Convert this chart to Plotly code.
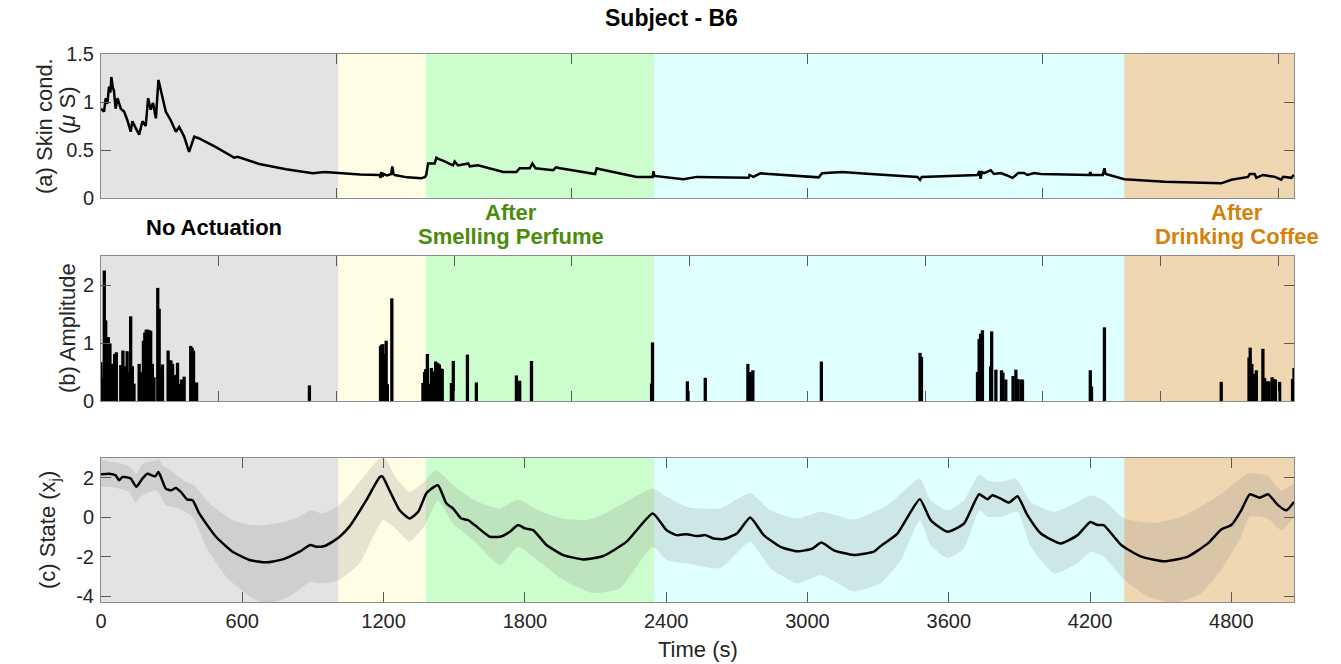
import plotly.graph_objects as go

# ---------------- data ----------------
# experiment phases (s)
PHASE_EDGES = [0, 1008, 1379, 2349, 4345, 5066]
PHASE_COLORS = ["#e3e3e3", "#fffde4", "#ccfdcc", "#e0ffff", "#efd7b2"]

# (a) skin conductance (uS)
SC_T = [0, 13, 20, 27, 34, 40, 44, 50, 55, 62, 70, 84, 98, 112, 126, 133, 147, 162, 176, 190,
        200, 211, 221, 233, 244, 254, 275, 296, 318, 332, 353, 374, 396, 417, 488, 559, 565, 580,
        672, 786, 899, 949, 1013, 1100, 1183, 1187, 1190, 1195, 1200, 1215, 1232, 1237, 1242,
        1247, 1300, 1360, 1376, 1381, 1389, 1417, 1424, 1430, 1452, 1495, 1502, 1516, 1559, 1566,
        1601, 1708, 1764, 1778, 1821, 1832, 1845, 1920, 1932, 1950, 2098, 2105, 2120, 2275, 2343,
        2346, 2350, 2473, 2530, 2750, 2754, 2770, 2800, 3048, 3062, 3147, 3268, 3467, 3478, 3485,
        3722, 3730, 3735, 3740, 3750, 3778, 3792, 3821, 3842, 3871, 3895, 3920, 3934, 3963, 3991,
        4197, 4201, 4205, 4254, 4261, 4266, 4346, 4516, 4757, 4800, 4871, 4878, 4899, 4906, 4934,
        4960, 4985, 5012, 5020, 5055, 5066]
SC_V = [0.93, 0.90, 1.04, 0.98, 1.16, 1.10, 1.26, 1.15, 1.12, 0.93, 1.04, 0.93, 0.90, 0.81, 0.69,
        0.80, 0.73, 0.66, 0.80, 0.75, 1.04, 0.92, 0.99, 0.83, 1.23, 1.12, 0.90, 0.81, 0.69, 0.74,
        0.64, 0.48, 0.64, 0.62, 0.53, 0.43, 0.42, 0.43, 0.354, 0.30, 0.257, 0.27, 0.257, 0.245,
        0.24, 0.21, 0.27, 0.22, 0.25, 0.235, 0.25, 0.33, 0.25, 0.24, 0.215, 0.205, 0.22, 0.24,
        0.36, 0.36, 0.42, 0.41, 0.39, 0.34, 0.38, 0.34, 0.36, 0.33, 0.34, 0.27, 0.27, 0.31, 0.31,
        0.36, 0.31, 0.29, 0.32, 0.31, 0.25, 0.31, 0.30, 0.22, 0.22, 0.28, 0.23, 0.195, 0.22, 0.21,
        0.24, 0.22, 0.257, 0.215, 0.257, 0.27, 0.25, 0.22, 0.19, 0.22, 0.24, 0.28, 0.20, 0.27,
        0.26, 0.29, 0.25, 0.26, 0.24, 0.21, 0.26, 0.26, 0.24, 0.26, 0.25, 0.24, 0.27, 0.24, 0.24,
        0.31, 0.25, 0.195, 0.17, 0.153, 0.19, 0.22, 0.25, 0.25, 0.21, 0.24, 0.23, 0.22, 0.19,
        0.22, 0.21, 0.24]

# (b) pulse amplitudes
AMP_T = [0, 7, 14, 20, 26, 31, 38, 45, 52, 58, 65, 84, 93, 100, 111, 118, 126, 133, 140, 162,
         168, 174, 180, 186, 192, 199, 205, 211, 218, 225, 241, 247, 254, 261, 285, 291, 297, 304,
         310, 316, 325, 332, 342, 353, 381, 387, 393, 406, 885,
         1187, 1192, 1197, 1204, 1211, 1216, 1235,
         1367, 1374, 1379, 1386, 1393, 1403, 1410, 1421, 1426, 1431, 1437, 1444, 1449, 1488, 1496,
         1556, 1594, 1764, 1778, 1828, 2338, 2342,
         2490, 2566, 2747, 2757, 2768, 3059, 3478, 3484, 3722, 3729, 3735, 3743, 3778, 3782, 3800,
         3824, 3830, 3842, 3873, 3885, 3892, 3906, 3913, 4201, 4206, 4261,
         4757, 4875, 4880, 4887, 4899, 4906, 4934, 4941, 4953, 4960, 4973, 4980, 4987, 5005, 5060,
         5066]
AMP_V = [0.67, 0.39, 2.25, 1.39, 1.10, 1.10, 0.99, 0.64, 0.64, 0.81, 0.84, 0.62, 0.87, 0.60, 0.86,
         0.50, 1.46, 0.60, 0.30, 0.64, 0.50, 0.50, 1.04, 1.18, 1.23, 1.23, 1.22, 1.21, 0.64, 0.41,
         1.95, 1.59, 0.56, 0.63, 0.87, 0.70, 0.70, 0.64, 0.45, 0.45, 0.66, 0.30, 0.37, 0.42, 0.95,
         0.92, 0.87, 0.32, 0.27,
         0.95, 0.97, 0.98, 0.81, 1.04, 0.29, 1.77,
         0.31, 0.50, 0.55, 0.81, 0.30, 0.57, 0.51, 0.68, 0.66, 0.65, 0.63, 0.56, 0.55, 0.31, 0.69,
         0.80, 0.32, 0.44, 0.35, 0.69, 0.30, 1.01,
         0.34, 0.40, 0.64, 0.50, 0.53, 0.68, 0.83, 0.76, 0.50, 1.07, 1.16, 1.22, 0.60, 1.20, 0.54,
         0.53, 0.49, 0.37, 0.43, 0.54, 0.38, 0.37, 0.37, 0.53, 0.25, 1.27,
         0.33, 0.75, 0.92, 0.64, 0.47, 0.53, 0.90, 0.40, 0.34, 0.34, 0.41, 0.38, 0.37, 0.33, 0.38,
         0.57]

# (c) estimated state and its confidence limits
ST_T = [0, 34, 62, 77, 91, 126, 150, 176, 197, 230, 244, 254, 275, 297, 318, 339, 367, 389, 417,
        488, 559, 630, 701, 772, 843, 889, 914, 949, 984, 1013, 1055, 1126, 1183, 1195, 1225,
        1268, 1311, 1347, 1381, 1400, 1431, 1467, 1495, 1530, 1559, 1587, 1651, 1694, 1736, 1771,
        1800, 1835, 1892, 1963, 2048, 2133, 2232, 2343, 2402, 2445, 2487, 2530, 2566, 2601, 2644,
        2700, 2757, 2814, 2885, 2956, 3020, 3059, 3112, 3197, 3282, 3310, 3382, 3477, 3523, 3594,
        3665, 3729, 3764, 3785, 3821, 3856, 3892, 3934, 3991, 4076, 4147, 4201, 4232, 4258, 4332,
        4417, 4516, 4615, 4700, 4757, 4800, 4842, 4878, 4920, 4956, 4998, 5034, 5066]
ST_V = [2.17, 2.20, 2.12, 1.87, 2.04, 1.96, 1.54, 1.96, 2.20, 2.07, 2.29, 2.05, 1.45, 1.36, 1.48,
        1.28, 0.89, 0.86, 0.19, -0.99, -1.75, -2.17, -2.29, -2.14, -1.75, -1.41, -1.50, -1.46,
        -1.24, -0.99, -0.48, 0.85, 2.02, 2.07, 1.36, 0.35, -0.07, 0.27, 1.20, 1.42, 1.62, 0.69,
        0.44, -0.07, -0.15, -0.40, -0.99, -0.99, -0.74, -0.40, -0.57, -0.66, -1.41, -1.92, -2.14,
        -1.97, -1.24, 0.19, -0.66, -0.91, -0.86, -0.96, -0.91, -1.08, -1.11, -0.83, -0.02, -0.91,
        -1.50, -1.73, -1.60, -1.29, -1.68, -1.92, -1.75, -1.47, -0.83, 0.91, -0.15, -0.74, -0.32,
        1.16, 0.91, 1.11, 0.94, 0.74, 1.06, 0.10, -0.83, -1.33, -0.91, -0.24, -0.40, -0.40, -1.41,
        -2.00, -2.24, -2.00, -1.33, -0.62, -0.40, 0.35, 1.16, 0.99, 1.16, 0.61, 0.35, 0.77]

UP_T = [0, 45, 91, 126, 150, 176, 233, 244, 261, 304, 360, 396, 460, 559, 630, 701, 772, 843, 889,
        942, 1013, 1098, 1197, 1250, 1311, 1371, 1424, 1495, 1580, 1637, 1694, 1771, 1835, 1900,
        1963, 2062, 2133, 2204, 2343, 2402, 2487, 2629, 2757, 2842, 2956, 3059, 3197, 3339, 3477,
        3523, 3594, 3665, 3729, 3764, 3821, 3885, 3949, 4048, 4147, 4201, 4258, 4346, 4474, 4587,
        4757, 4871, 4956, 5012, 5066]
UP_V = [2.91, 2.80, 2.71, 2.55, 2.20, 2.71, 2.88, 2.97, 2.63, 2.29, 1.78, 1.62, 0.70, -0.15, -0.38,
        -0.40, -0.25, 0.02, 0.35, 0.19, 0.60, 1.78, 3.10, 2.04, 1.28, 1.78, 2.38, 1.62, 0.90, 0.60,
        0.44, 0.89, 0.49, 0.15, -0.07, -0.15, 0.15, 0.60, 1.45, 1.03, 0.52, 0.44, 1.23, 0.35,
        -0.07, 0.27, -0.12, 0.60, 1.95, 0.85, 0.35, 0.85, 2.17, 1.87, 1.78, 1.95, 0.77, 0.27, 0.77,
        1.11, 0.85, -0.07, -0.29, 0.02, 1.18, 2.22, 2.10, 1.34, 1.68]

LO_T = [0, 45, 119, 147, 176, 233, 247, 275, 332, 389, 446, 531, 630, 701, 800, 889, 928, 1013,
        1098, 1197, 1250, 1311, 1371, 1431, 1495, 1580, 1694, 1771, 1835, 1963, 2090, 2204, 2343,
        2402, 2487, 2629, 2757, 2842, 2956, 3059, 3197, 3310, 3396, 3477, 3523, 3594, 3665, 3729,
        3764, 3821, 3892, 3949, 4048, 4147, 4201, 4258, 4346, 4445, 4559, 4672, 4757, 4842, 4878,
        4956, 5012, 5066]
LO_V = [1.53, 1.53, 1.28, 0.77, 1.11, 1.36, 1.20, 0.60, 0.44, 0.02, -1.50, -3.01, -4.02, -4.40,
        -4.02, -3.27, -3.35, -3.18, -2.34, -0.15, -0.57, -1.24, -0.49, 0.85, -0.32, -1.16, -2.42,
        -1.50, -2.00, -3.18, -3.85, -3.60, -1.50, -2.17, -2.34, -2.59, -1.24, -2.59, -3.35, -2.93,
        -3.77, -3.35, -2.17, -0.15, -1.41, -2.08, -1.58, 0.35, 0.02, 0.02, 0.27, -1.50, -2.85,
        -2.34, -1.75, -2.00, -3.18, -4.02, -4.35, -3.85, -2.67, -0.99, 0.02, -0.07, -0.66, 0.02]

# ---------------- figure ----------------
FONT = "Liberation Sans, Arial, Helvetica, sans-serif"
TXT = "#262626"
W, H = 1341, 664
L, R, T, B = 101, 47, 54, 62
PW, PH = W - L - R, H - T - B


def px(x):
    return (x - L) / PW


def py(y):
    return (H - B - y) / PH


fig = go.Figure()

fig.add_trace(go.Scatter(x=SC_T, y=SC_V, mode="lines", xaxis="x", yaxis="y",
                         line=dict(color="black", width=2.5), showlegend=False))

fig.add_trace(go.Bar(x=AMP_T, y=AMP_V, width=[14] * len(AMP_T), xaxis="x2", yaxis="y2",
                     marker=dict(color="black", line=dict(width=0)), showlegend=False))

fig.add_trace(go.Scatter(x=UP_T + LO_T[::-1], y=UP_V + LO_V[::-1], mode="lines",
                         fill="toself", fillcolor="rgba(128,128,128,0.2)",
                         line=dict(width=0, shape="spline", smoothing=0.5),
                         xaxis="x3", yaxis="y3", showlegend=False))
fig.add_trace(go.Scatter(x=ST_T, y=ST_V, mode="lines", xaxis="x3", yaxis="y3",
                         line=dict(color="black", width=2.5, shape="spline", smoothing=0.5),
                         showlegend=False))

# phase backgrounds in every panel
for xr, yr in (("x", "y"), ("x2", "y2"), ("x3", "y3")):
    for i, col in enumerate(PHASE_COLORS):
        fig.add_shape(type="rect", xref=xr, yref=f"{yr} domain",
                      x0=PHASE_EDGES[i], x1=PHASE_EDGES[i + 1], y0=0, y1=1,
                      fillcolor=col, line=dict(width=0), layer="below")

axis_common = dict(showline=True, linecolor="#8c8c8c", linewidth=1, mirror="ticks",
                   ticks="inside", ticklen=10, tickcolor="#5a5a5a", tickwidth=1,
                   showgrid=False, zeroline=False,
                   tickfont=dict(family=FONT, size=20, color=TXT))
xr = [0, PHASE_EDGES[-1]]

fig.update_layout(
    width=W, height=H,
    margin=dict(l=L, r=R, t=T, b=B, autoexpand=False),
    paper_bgcolor="white", plot_bgcolor="white",
    barmode="overlay",
    xaxis=dict(axis_common, domain=[0, 1], range=xr, anchor="y",
               tickvals=[0, 1000, 2000, 3000, 4000, 5000], showticklabels=False),
    yaxis=dict(axis_common, domain=[py(198), 1], range=[0, 1.5], anchor="x",
               tickvals=[0, 0.5, 1, 1.5], ticktext=["0", "0.5", "1", "1.5"],
               ticklabelstandoff=2),
    xaxis2=dict(axis_common, domain=[0, 1], range=xr, anchor="y2",
                tickvals=list(range(0, 5001, 500)), showticklabels=False),
    yaxis2=dict(axis_common, domain=[py(401), py(256)], range=[0, 2.5], anchor="x2",
                tickvals=[0, 1, 2], ticktext=["0", "1", "2"], ticklabelstandoff=2),
    xaxis3=dict(axis_common, domain=[0, 1], range=xr, anchor="y3",
                tickvals=list(range(0, 5000, 600)),
                ticktext=[str(v) for v in range(0, 5000, 600)], ticklabelstandoff=1),
    yaxis3=dict(axis_common, domain=[0, py(458)], range=[-4.3, 3], anchor="x3",
                tickvals=[-4, -2, 0, 2], ticktext=["-4", "-2", "0", "2"],
                ticklabelstandoff=2),
)

ann = []


def text(x, y, s, size=22, color=TXT, bold=False, angle=0):
    ann.append(dict(xref="paper", yref="paper", x=px(x), y=py(y), text=f"<b>{s}</b>" if bold else s,
                    showarrow=False, xanchor="center", yanchor="middle", textangle=angle,
                    font=dict(family=FONT, size=size, color=color)))


text(671, 18, "Subject - B6", size=23, color="black", bold=True)
text(698, 650, "Time (s)")
text(45, 126, "(a) Skin cond.", angle=-90)
text(67, 110, "(<i>μ</i> S)", angle=-90)
text(67, 328, "(b) Amplitude", angle=-90)
text(49, 530, "(c) State (x<sub>j</sub>)", angle=-90)
text(214, 227, "No Actuation", color="black", bold=True)
text(511, 212, "After", color="#4b8c0c", bold=True)
text(511, 237, "Smelling Perfume", color="#4b8c0c", bold=True)
text(1237, 212, "After", color="#d4820b", bold=True)
text(1237, 237, "Drinking Coffee", color="#d4820b", bold=True)
fig.update_layout(annotations=ann)

fig.write_html("out.html")
